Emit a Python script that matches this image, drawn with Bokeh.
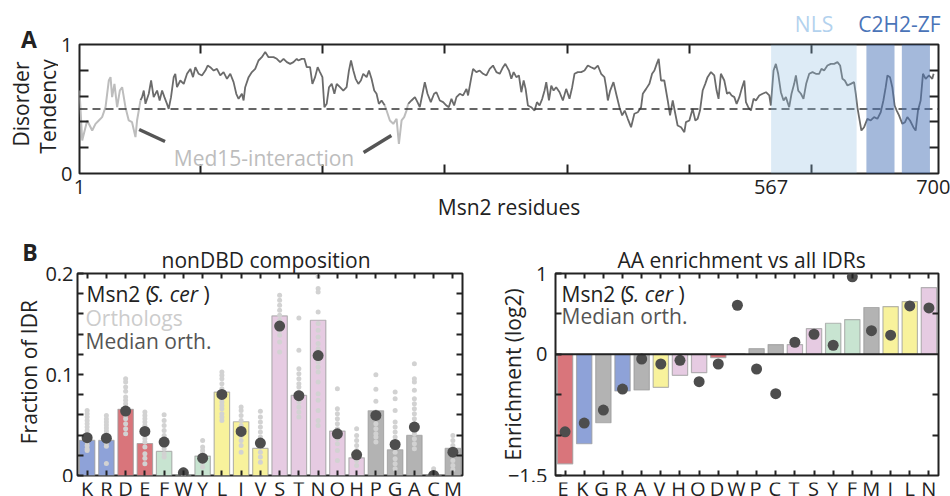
import numpy as np
from bokeh.plotting import figure
from bokeh.models import (Range1d, FactorRange, FixedTicker, LinearAxis, CategoricalAxis,
                          BoxAnnotation, Span, Label, Plot, Title)
from bokeh.core.properties import value
from bokeh.layouts import column, row
from bokeh.embed import file_html
from bokeh.resources import INLINE

FONT = "Open Sans"
INK = "#222222"

# ---------------- Panel A data ----------------
residues = [1, 3.2, 7.3, 11.4, 14.1, 16.8, 19.5, 22.3, 25.0, 26.4, 27.7, 29.6, 31.8, 34.0, 35.9, 38.6,
            41.3, 44.0, 46.8, 48.1, 49.5, 50.9, 52.2, 53.6, 55.0, 57.7, 59.6, 61.7, 64.5, 66.6, 68.6,
            70.5, 72.6, 74.0, 75.9, 78.1, 79.4, 80.8, 83.5, 86.3, 89.0, 91.7, 93.9, 95.8, 98.5, 101.2,
            104.0, 105.9, 108.0, 110.8, 113.5, 116.2, 118.9, 121.7, 124.4, 127.1, 129.3, 131.2, 133.9,
            135.3, 136.6, 139.4, 142.1, 144.8, 147.5, 150.2, 153.0, 155.7, 159.8, 162.5, 165.2, 168.0,
            170.7, 173.4, 176.1, 178.8,
            180.1, 182.9, 185.0, 187.0, 189.7, 191.6, 193.8, 195.9, 197.8, 199.8, 201.4, 203.3, 205.2,
            207.4, 209.6, 211.5, 214.2, 216.9, 219.6, 221.5, 223.2, 225.1, 227.0, 229.2, 231.3, 233.2,
            236.0, 237.9, 240.0, 242.2, 244.1, 246.0, 248.2, 250.9, 252.3, 255.0, 257.8, 260.5, 262.4,
            264.6, 266.7, 268.6, 270.0, 272.7, 275.5, 277.6, 279.5, 281.4, 283.6, 285.8, 288.5, 291.2,
            293.1, 295.9, 298.6, 301.3, 303.2, 305.4, 307.6, 309.5, 312.2, 314.9, 317.7, 319.0, 321.7,
            323.1, 325.8, 328.5, 331.3, 334.0, 336.7, 339.4, 342.2, 344.9, 347.6, 349.5,
            352.5, 354.4, 356.3, 358.5, 360.6, 362.6, 364.5, 366.1, 368.0, 370.7, 373.4, 375.4, 377.5,
            379.7, 381.6, 383.0, 385.2, 387.1, 389.0, 391.1, 393.9, 396.6, 399.3, 402.0, 404.2, 406.1,
            408.8, 411.6, 414.3, 417.0, 419.7, 422.5, 425.2, 427.9, 430.6, 432.0, 433.4, 435.3, 438.0,
            440.2, 442.9, 445.1, 447.2, 449.7, 452.4, 455.1, 457.9, 460.6, 462.0, 464.7, 467.4, 469.6,
            471.5, 473.4, 475.0, 476.9, 479.6, 482.4, 484.3, 486.5, 488.6, 490.5, 493.3, 496.0, 497.3,
            500.1, 502.8, 505.0, 506.9, 508.8, 511.0, 513.1, 515.0, 517.8, 520.5, 522.4, 524.0, 525.9,
            528.7, 530.9, 532.8, 534.7, 536.9, 538.8, 541.0, 542.9, 545.1, 546.4, 548.3, 550.5, 552.7,
            554.6, 557.3, 560.0, 562.8, 565.5, 566.8, 569.0, 570.9, 572.8, 575.0, 577.2, 579.1, 581.8,
            583.7, 585.9, 587.3, 589.2, 591.4, 593.5, 595.7, 598.2, 600.9, 603.6, 606.3, 608.2, 610.4,
            613.1, 615.9, 618.6, 621.3, 623.5, 625.4, 627.3, 629.5, 632.2, 634.9, 636.3, 637.6, 639.0,
            640.9, 643.1, 645.8, 648.5, 651.3, 654.0, 656.7, 658.9, 660.8, 662.2, 664.3, 666.2, 668.1,
            669.8, 671.7, 674.4, 676.6, 678.5, 680.7, 683.4, 685.3, 687.2, 689.4, 691.3, 693.5, 696.2,
            698.9, 700]
disorder = [0.643, 0.256, 0.411, 0.333, 0.385, 0.411, 0.437, 0.514, 0.721, 0.747, 0.592, 0.695, 0.514,
            0.643, 0.669, 0.514, 0.411, 0.398, 0.282, 0.411, 0.488, 0.566, 0.592, 0.643, 0.540, 0.618,
            0.721, 0.592, 0.643, 0.566, 0.643, 0.592, 0.540, 0.501, 0.592, 0.747, 0.773, 0.669, 0.721,
            0.695, 0.773, 0.811, 0.747, 0.824, 0.773, 0.760, 0.798, 0.837, 0.824, 0.798, 0.811, 0.760,
            0.786, 0.734, 0.773, 0.708, 0.618, 0.579, 0.618, 0.566, 0.669, 0.747, 0.786, 0.811, 0.876,
            0.902, 0.941, 0.902, 0.902, 0.889, 0.863, 0.889, 0.863, 0.850, 0.863, 0.889,
            0.876, 0.889, 0.889, 0.824, 0.824, 0.695, 0.747, 0.824, 0.786, 0.747, 0.514, 0.540, 0.669,
            0.695, 0.618, 0.695, 0.669, 0.643, 0.669, 0.798, 0.876, 0.798, 0.734, 0.695, 0.721, 0.773,
            0.747, 0.798, 0.734, 0.643, 0.618, 0.540, 0.566, 0.527, 0.488, 0.411, 0.385, 0.424, 0.230,
            0.411, 0.437, 0.488, 0.540, 0.566, 0.592, 0.553, 0.514, 0.605, 0.708, 0.618, 0.553, 0.618,
            0.630, 0.566, 0.553, 0.527, 0.514, 0.579, 0.527, 0.592, 0.618, 0.605, 0.656, 0.605, 0.747,
            0.811, 0.786, 0.798, 0.773, 0.760, 0.811, 0.837, 0.786, 0.773, 0.824, 0.850,
            0.798, 0.734, 0.786, 0.747, 0.760, 0.630, 0.721, 0.656, 0.527, 0.514, 0.488, 0.553, 0.527,
            0.579, 0.643, 0.708, 0.566, 0.682, 0.643, 0.669, 0.630, 0.566, 0.656, 0.579, 0.669, 0.773,
            0.786, 0.786, 0.798, 0.837, 0.824, 0.811, 0.837, 0.773, 0.747, 0.669, 0.566, 0.643, 0.708,
            0.618, 0.514, 0.450, 0.488, 0.424, 0.359, 0.463, 0.475, 0.514, 0.618, 0.656, 0.695, 0.773,
            0.798, 0.850, 0.889, 0.721, 0.721, 0.566, 0.450, 0.566, 0.463, 0.372, 0.359, 0.320, 0.398,
            0.411, 0.501, 0.411, 0.424, 0.488, 0.643, 0.695, 0.747, 0.786, 0.760, 0.643, 0.579, 0.773,
            0.721, 0.618, 0.630, 0.605, 0.592, 0.540, 0.592, 0.656, 0.721, 0.553, 0.514, 0.488, 0.579,
            0.566, 0.605, 0.618, 0.630, 0.605, 0.527, 0.798, 0.850, 0.773, 0.630, 0.566, 0.592, 0.514,
            0.618, 0.695, 0.760, 0.643, 0.618, 0.579, 0.695, 0.773, 0.786, 0.773, 0.773, 0.811, 0.798,
            0.837, 0.850, 0.850, 0.863, 0.837, 0.734, 0.721, 0.682, 0.695, 0.708, 0.618, 0.514, 0.437,
            0.333, 0.359, 0.424, 0.411, 0.437, 0.424, 0.475, 0.566, 0.669, 0.760, 0.747, 0.669, 0.527,
            0.488, 0.450, 0.385, 0.398, 0.437, 0.411, 0.359, 0.333, 0.488, 0.566, 0.773, 0.734, 0.760,
            0.734, 0.773]
disorder_threshold = 0.5
med15_ranges = [(1, 50), (252, 269)]
nls_range = (567, 637)
zf_ranges = [(645, 668), (674, 697)]
med15_pointer_x = [[49.8, 71.0], [233.5, 256.2]]
med15_pointer_y = [[0.341, 0.248], [0.163, 0.295]]
residue_tick_labels = [1, 567, 700]
residue_minor_ticks = [100, 200, 300, 400, 500, 600]

# ---------------- Panel B data ----------------
aa_left = ["K", "R", "D", "E", "F", "W", "Y", "L", "I", "V",
           "S", "T", "N", "Q", "H", "P", "G", "A", "C", "M"]
msn2_frac = [0.0347, 0.0347, 0.0655, 0.0317, 0.0238, 0.0010, 0.0192, 0.0826, 0.0532, 0.0268,
             0.1580, 0.0793, 0.1537, 0.0440, 0.0175, 0.0641, 0.0255, 0.0397, 0.0010, 0.0268]
median_frac = [0.0374, 0.0370, 0.0638, 0.0436, 0.0331, 0.0026, 0.0172, 0.0803, 0.0436, 0.0321,
               0.1480, 0.0790, 0.1187, 0.0413, 0.0205, 0.0595, 0.0307, 0.0479, 0.0000, 0.0231]
ortholog_frac = [
    [0.0644, 0.0611, 0.0578, 0.0545, 0.0512, 0.0479, 0.0446, 0.0413, 0.0397, 0.0364, 0.0331, 0.0297, 0.0264, 0.0248],
    [0.0595, 0.0560, 0.0530, 0.0500, 0.0470, 0.0440, 0.0410, 0.0380, 0.0350, 0.0320, 0.0290, 0.0120],
    [0.0958, 0.0925, 0.0876, 0.0833, 0.0777, 0.0744, 0.0711, 0.0678, 0.0628, 0.0595, 0.0562, 0.0512, 0.0463, 0.0413],
    [0.0628, 0.0595, 0.0562, 0.0529, 0.0496, 0.0463, 0.0430, 0.0397, 0.0364, 0.0331, 0.0281, 0.0215, 0.0172, 0.0116],
    [0.0601, 0.0545, 0.0496, 0.0446, 0.0397, 0.0364, 0.0314, 0.0264, 0.0215, 0.0182],
    [0.0060, 0.0040, 0.0030, 0.0020, 0.0010, 0.0000],
    [0.0347, 0.0281, 0.0248, 0.0215, 0.0182, 0.0132, 0.0083],
    [0.1025, 0.0992, 0.0958, 0.0909, 0.0859, 0.0810, 0.0760, 0.0727, 0.0694, 0.0661, 0.0611, 0.0578, 0.0545],
    [0.0678, 0.0644, 0.0595, 0.0545, 0.0496, 0.0446, 0.0397, 0.0347, 0.0297, 0.0231],
    [0.0635, 0.0578, 0.0529, 0.0479, 0.0430, 0.0380, 0.0331, 0.0281, 0.0231, 0.0182, 0.0132],
    [0.1785, 0.1735, 0.1686, 0.1636, 0.1586, 0.1537, 0.1487, 0.1438, 0.1388, 0.1322, 0.1223],
    [0.1560, 0.1239, 0.1058, 0.1008, 0.0958, 0.0909, 0.0876, 0.0826, 0.0777, 0.0727, 0.0678, 0.0628, 0.0578],
    [0.1970, 0.1851, 0.1818, 0.1620, 0.1504, 0.1438, 0.1372, 0.1306, 0.1256, 0.1124, 0.1074, 0.1025, 0.0925,
     0.0810, 0.0744, 0.0644, 0.0545, 0.0496],
    [0.0859, 0.0661, 0.0611, 0.0562, 0.0512, 0.0463, 0.0413, 0.0364, 0.0314, 0.0248, 0.0149],
    [0.0463, 0.0397, 0.0347, 0.0297, 0.0248, 0.0198, 0.0149, 0.0099],
    [0.0998, 0.0853, 0.0734, 0.0628, 0.0562, 0.0512, 0.0463, 0.0413, 0.0380, 0.0331],
    [0.0826, 0.0760, 0.0644, 0.0529, 0.0479, 0.0430, 0.0380, 0.0331, 0.0281, 0.0231, 0.0165, 0.0116, 0.0066],
    [0.1107, 0.0958, 0.0925, 0.0843, 0.0760, 0.0711, 0.0661, 0.0611, 0.0562, 0.0512, 0.0463, 0.0413, 0.0364,
     0.0314, 0.0264],
    [0.0066, 0.0040, 0.0017],
    [0.0397, 0.0347, 0.0297, 0.0248, 0.0198, 0.0149, 0.0099, 0.0060],
]

aa_right = ["E", "K", "G", "R", "A", "V", "H", "Q", "D", "W",
            "P", "C", "T", "S", "Y", "F", "M", "I", "L", "N"]
msn2_enrich = [-1.355, -1.107, -0.847, -0.454, -0.442, -0.409, -0.260, -0.227, -0.041, 0.010,
               0.070, 0.120, 0.120, 0.318, 0.384, 0.430, 0.579, 0.591, 0.653, 0.826]
median_enrich = [-0.959, -0.851, -0.690, -0.430, -0.058, -0.120, -0.074, -0.339, -0.120, 0.607,
                 -0.182, -0.488, 0.149, 0.248, 0.112, 0.959, 0.293, 0.236, 0.599, 0.574]

BLUE, RED, GREEN, YELLOW, PINK, GRAY = "#8ea2d8", "#d9757b", "#c8e4d1", "#f8f29c", "#e6cbe2", "#b3b3b3"
aa_color = {"K": BLUE, "R": BLUE, "D": RED, "E": RED, "F": GREEN, "W": GREEN, "Y": GREEN,
            "L": YELLOW, "I": YELLOW, "V": YELLOW, "S": PINK, "T": PINK, "N": PINK, "Q": PINK,
            "H": PINK, "P": GRAY, "G": GRAY, "A": GRAY, "C": GRAY, "M": GRAY}

TXT = "21px"
FA = {"frame_align": False} if "frame_align" in Plot.properties() else {}


def style_axis(ax, tick_len=8, labels=True, size="20px"):
    ax.axis_line_color = None
    ax.major_tick_in = tick_len
    ax.major_tick_out = 0
    ax.minor_tick_in = tick_len
    ax.minor_tick_out = 0
    ax.major_tick_line_color = INK
    ax.minor_tick_line_color = INK
    ax.major_tick_line_width = 2
    ax.minor_tick_line_width = 2
    ax.major_label_text_font = FONT
    ax.axis_label_text_font = FONT
    ax.axis_label_text_font_style = "normal"
    ax.axis_label_text_color = INK
    ax.axis_label_text_font_size = TXT
    if labels:
        ax.major_label_text_color = INK
        ax.major_label_text_font_size = size
    else:
        ax.major_label_text_color = None
        ax.major_label_text_font_size = "0px"
        ax.major_label_standoff = 0


def base_fig(w, h, xr, yr, bl, br, bt, bb):
    p = figure(width=w, height=h, x_range=xr, y_range=yr, output_backend="svg",
               toolbar_location=None, x_axis_location=None, y_axis_location=None, title=None,
               min_border_left=bl, min_border_right=br, min_border_top=bt, min_border_bottom=bb,
               **FA)
    p.grid.visible = False
    p.outline_line_color = INK
    p.outline_line_width = 2
    p.background_fill_color = "white"
    p.border_fill_color = "white"
    return p


def text_strip(w, h, xr=None, bl=0, br=0):
    p = figure(width=w, height=h, x_range=xr if xr is not None else Range1d(0, w),
               y_range=Range1d(0, h), output_backend="svg", toolbar_location=None,
               x_axis_location=None, y_axis_location=None, title=None,
               min_border_left=bl, min_border_right=br, min_border_top=0, min_border_bottom=0,
               **FA)
    p.grid.visible = False
    p.outline_line_color = None
    p.background_fill_color = "white"
    p.border_fill_color = "white"
    return p


def add_label(p, x, y, text, size=TXT, color=INK, style="normal", align="left",
              x_units="screen", y_units="screen", angle=0):
    p.add_layout(Label(x=x, y=y, x_units=x_units, y_units=y_units, text=text,
                       text_font=FONT, text_font_size=size, text_color=color,
                       text_font_style=style, text_align=align, text_baseline="middle",
                       angle=angle))


def panel_title(text, offset):
    return Title(text=text, align="left", offset=offset, standoff=0, text_font=FONT,
                 text_font_size=TXT, text_font_style="normal", text_color=INK)


# ================= Panel A =================
pA = base_fig(892, 208, Range1d(1, 704), Range1d(0, 1), 19, 12, 12, 67)

xb = LinearAxis(ticker=FixedTicker(ticks=residue_tick_labels, minor_ticks=residue_minor_ticks),
                axis_label="Msn2 residues")
style_axis(xb, tick_len=9)
xb.major_tick_in = 0
xb.major_label_standoff = 6
xb.axis_label_standoff = -4
pA.add_layout(xb, "below")
xt = LinearAxis(ticker=FixedTicker(ticks=residue_minor_ticks))
style_axis(xt, tick_len=9, labels=False)
pA.add_layout(xt, "above")
yl = LinearAxis(ticker=FixedTicker(ticks=[0, 1], minor_ticks=[0.2, 0.4, 0.6, 0.8]))
style_axis(yl, tick_len=9)
yl.major_tick_in = 0
yl.major_label_standoff = 7
pA.add_layout(yl, "left")
yr_ = LinearAxis(ticker=FixedTicker(ticks=[0.2, 0.4, 0.6, 0.8]))
style_axis(yr_, tick_len=9, labels=False)
pA.add_layout(yr_, "right")

res = np.array(residues, dtype=float)
dis = np.array(disorder, dtype=float)
gray_mask = np.zeros(len(res), dtype=bool)
for lo, hi in med15_ranges:
    gray_mask |= (res >= lo) & (res <= hi)
ext_mask = gray_mask.copy()
ext_mask[1:] |= gray_mask[:-1]
ext_mask[:-1] |= gray_mask[1:]
dark_y = np.where(gray_mask, np.nan, dis)
light_y = np.where(ext_mask, dis, np.nan)
pA.line(res, dark_y, line_color="#6b6b6b", line_width=1.8)
pA.line(res, light_y, line_color="#bdbdbd", line_width=2)

pA.add_layout(Span(location=disorder_threshold, dimension="width", line_color="#333333",
                   line_width=1.5, line_dash="8 5"))
pA.add_layout(BoxAnnotation(left=nls_range[0], right=nls_range[1], fill_color="#8dbce1",
                            fill_alpha=0.3, line_color=None))
for lo, hi in zf_ranges:
    pA.add_layout(BoxAnnotation(left=lo, right=hi, fill_color="#4a74b8", fill_alpha=0.5,
                                line_color=None))

for xs, ys in zip(med15_pointer_x, med15_pointer_y):
    pA.line(xs, ys, line_color="#555555", line_width=3.5)

add_label(pA, 152, 0.124, "Med15-interaction", color="#bdbdbd", align="center",
          x_units="data", y_units="data")

# text strips around panel A
sL = text_strip(58, 240)
add_label(sL, 28.5, 201.5, "A", size="23px", style="bold", align="center")
add_label(sL, 20.5, 136.5, "Disorder", align="center", angle=np.pi / 2)
add_label(sL, 47, 134, "Tendency", align="center", angle=np.pi / 2)

sT = text_strip(892, 32)
add_label(sT, 755.5, 8.7, "NLS", color="#b3d2ee", align="center")
add_label(sT, 841, 8.7, "C2H2-ZF", color="#4a74b8", align="center")

# ================= Panel B left =================
pB1 = base_fig(455, 242, FactorRange(factors=aa_left), Range1d(0, 0.2), 37, 33, 33, 7)
pB1.title = panel_title("nonDBD composition", 84)

cb = CategoricalAxis()
style_axis(cb, tick_len=5, labels=False)
pB1.add_layout(cb, "below")
ct = CategoricalAxis()
style_axis(ct, tick_len=5, labels=False)
pB1.add_layout(ct, "above")
ylb = LinearAxis(ticker=FixedTicker(ticks=[0, 0.1, 0.2],
                                    minor_ticks=[0.02, 0.04, 0.06, 0.08, 0.12, 0.14, 0.16, 0.18]))
style_axis(ylb, tick_len=6)
ylb.major_label_overrides = {0: "0"}
ylb.major_label_standoff = 4
pB1.add_layout(ylb, "left")
yrb = LinearAxis(ticker=FixedTicker(ticks=[0.02 * i for i in range(1, 10)]))
style_axis(yrb, tick_len=6, labels=False)
pB1.add_layout(yrb, "right")

pB1.vbar(x=aa_left, top=msn2_frac, width=0.8, fill_color=[aa_color[a] for a in aa_left],
         line_color="#9a9a9a", line_alpha=0.7, line_width=1.2)
orth_x = [a for a, vals in zip(aa_left, ortholog_frac) for _ in vals]
orth_y = [v for vals in ortholog_frac for v in vals]
pB1.scatter(x=orth_x, y=orth_y, size=5, fill_color="#d2d2d2", line_color=None)
pB1.scatter(x=aa_left, y=median_frac, size=11, fill_color="#4d4d4d", line_color=None)

add_label(pB1, 9, 181.2, "Msn2 (", color=INK)
add_label(pB1, 71, 181.2, "S. cer", color=INK, style="italic")
add_label(pB1, 126, 181.2, ")", color=INK)
add_label(pB1, 8, 157.5, "Orthologs", color="#cccccc")
add_label(pB1, 8, 134.2, "Median orth.", color="#555555")

# left strip of panel B: panel letter and y-axis title
sLB = text_strip(40, 242)
add_label(sLB, 29.5, 230.5, "B", size="23px", style="bold", align="center")
add_label(sLB, 28.5, 110.3, "Fraction of IDR", align="center", angle=np.pi / 2)

# ================= Panel B right =================
pB2 = base_fig(455, 242, FactorRange(factors=aa_right), Range1d(-1.5, 1), 58, 12, 33, 7)
pB2.title = panel_title("AA enrichment vs all IDRs", 62)

cb2 = CategoricalAxis()
style_axis(cb2, tick_len=5, labels=False)
pB2.add_layout(cb2, "below")
ct2 = CategoricalAxis()
style_axis(ct2, tick_len=5, labels=False)
pB2.add_layout(ct2, "above")
yl2 = LinearAxis(ticker=FixedTicker(ticks=[-1.5, 0, 1], minor_ticks=[-1, -0.5, 0.5]),
                 axis_label="Enrichment (log2)")
style_axis(yl2, tick_len=6)
yl2.major_label_overrides = {0: "0", 1: "1"}
yl2.major_label_standoff = 8
yl2.axis_label_standoff = -22
pB2.add_layout(yl2, "left")
yr2 = LinearAxis(ticker=FixedTicker(ticks=[-1, -0.5, 0.5]))
style_axis(yr2, tick_len=6, labels=False)
pB2.add_layout(yr2, "right")

pB2.vbar(x=aa_right, top=msn2_enrich, bottom=0, width=0.8,
         fill_color=[aa_color[a] for a in aa_right],
         line_color="#9a9a9a", line_alpha=0.7, line_width=1.2)
pB2.add_layout(Span(location=0, dimension="width", line_color=INK, line_width=2))
pB2.scatter(x=aa_right, y=median_enrich, size=11, fill_color="#4d4d4d", line_color=None)

add_label(pB2, 6, 181.7, "Msn2 (", color=INK)
add_label(pB2, 68, 181.7, "S. cer", color=INK, style="italic")
add_label(pB2, 123, 181.7, ")", color=INK)
add_label(pB2, 6, 159.7, "Median orth.", color="#555555")

# category label strips (share the categorical ranges of panel B)
cB1 = text_strip(495, 14, xr=pB1.x_range, bl=77, br=33)
cB1.text(x=aa_left, y=21.4, text=aa_left, text_align="center", text_baseline="top",
         text_font=value(FONT), text_font_size="20px", text_color=INK)
cB2 = text_strip(455, 14, xr=pB2.x_range, bl=58, br=12)
cB2.text(x=aa_right, y=21.4, text=aa_right, text_align="center", text_baseline="top",
         text_font=value(FONT), text_font_size="20px", text_color=INK)

layout = column(row(sL, column(sT, pA)), row(sLB, pB1, pB2), row(cB1, cB2))
open("out.html", "w").write(file_html(layout, INLINE))
